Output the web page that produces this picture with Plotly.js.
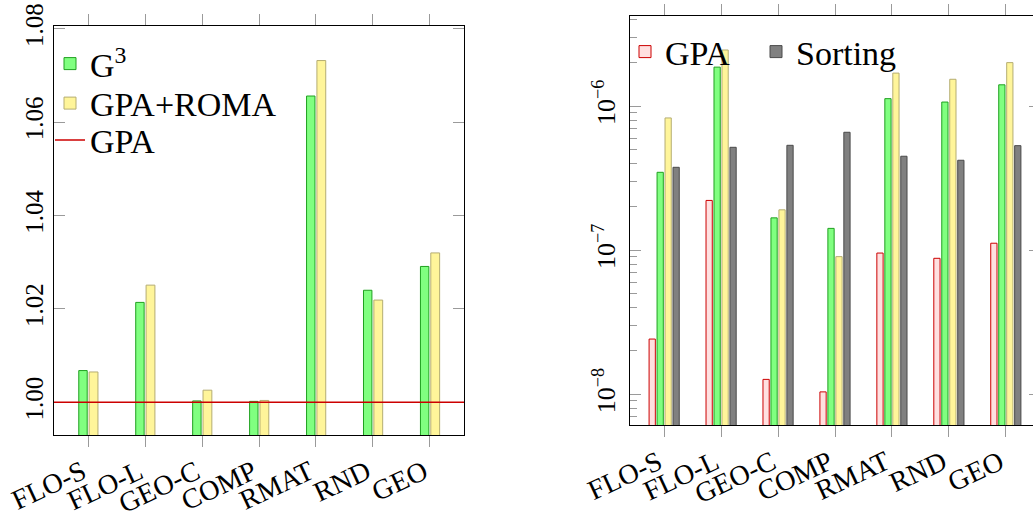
<!DOCTYPE html>
<html><head><meta charset="utf-8">
<script src="https://cdn.plot.ly/plotly-3.0.1.min.js"></script>
<style>html,body{margin:0;padding:0;overflow:hidden;background:#fff}</style>
</head><body><div id="chart" style="width:1045px;height:515px"></div>
<script>
const categories = ['FLO-S','FLO-L','GEO-C','COMP','RMAT','RND','GEO'];
// left panel: relative quality
const qualityG3 = [1.0068,1.0214,1.0003,1.0002,1.0656,1.0240,1.0291];
const qualityGpaRoma = [1.0065,1.0251,1.0026,1.0004,1.0732,1.0219,1.0320];
const qualityGpaBaseline = 1.0;
const qualityTicks = [1.00,1.02,1.04,1.06,1.08];
// right panel: running time
const timeGpa = [2.42e-8,2.22e-7,1.27e-8,1.04e-8,9.57e-8,8.8e-8,1.12e-7];
const timeG3 = [3.48e-7,1.87e-6,1.68e-7,1.42e-7,1.13e-6,1.07e-6,1.41e-6];
const timeGpaRoma = [8.3e-7,2.46e-6,1.91e-7,9.04e-8,1.70e-6,1.54e-6,2.01e-6];
const timeSorting = [3.77e-7,5.19e-7,5.36e-7,6.6e-7,4.5e-7,4.22e-7,5.33e-7];
const timeTicks = [1e-8,1e-7,1e-6];
const timeTickText = ['10<sup>\u22128</sup>','10<sup>\u22127</sup>','10<sup>\u22126</sup>'];

const W = 1045, H = 515;
const FONT = 'Liberation Serif';
const green = {fill:'#80ff80', line:'#1fa01f'};
const yellow = {fill:'#fff59a', line:'#b5ad72'};
const red = {fill:'#ffe0e0', line:'#cc0000'};
const gray = {fill:'#808080', line:'#4a4a4a'};

const minorVals = [];
for (let e = -9; e <= -5; e++) for (let m = 2; m <= 9; m++) minorVals.push(m * Math.pow(10, e));

function bar(x, y, col, name, xa, ya, offset, width, legend, show) {
  return {type:'bar', x:x, y:y, name:name, xaxis:xa, yaxis:ya, offset:offset, width:width,
    marker:{color:col.fill, line:{color:col.line, width:1}}, legend:legend, showlegend:show,
    hoverinfo:'y'};
}

const data = [
  bar(categories, qualityG3, green, 'G<sup>3</sup>', 'x', 'y', -0.165, 0.148, 'legend', true),
  bar(categories, qualityGpaRoma, yellow, 'GPA+ROMA', 'x', 'y', 0.017, 0.155, 'legend3', true),
  bar(categories, timeGpa, red, 'GPA', 'x2', 'y2', -0.265, 0.11, 'legend2', true),
  bar(categories, timeG3, green, 'G<sup>3</sup>', 'x2', 'y2', -0.125, 0.11, 'legend2', false),
  bar(categories, timeGpaRoma, yellow, 'GPA+ROMA', 'x2', 'y2', 0.015, 0.11, 'legend2', false),
  bar(categories, timeSorting, gray, 'Sorting', 'x2', 'y2', 0.155, 0.11, 'legend5', true)
];

const xCommon = {
  type:'category', range:[-0.6, 6.6], showline:true, linecolor:'#000', linewidth:1,
  mirror:'ticks', ticks:'outside', ticklen:11, tickcolor:'#9a9a9a', tickwidth:1,
  tickangle:-25, ticklabelstandoff:-2, ticklabelshift:-6, tickfont:{family:FONT, size:28, color:'#000'},
  showgrid:false, zeroline:false, fixedrange:true
};

const legendFont = {family:FONT, size:34, color:'#000'};
function leg(x, yc, extra) {
  return Object.assign({x:x/W, y:(H-yc)/H, xanchor:'left', yanchor:'middle', bgcolor:'rgba(0,0,0,0)',
    borderwidth:0, font:legendFont, itemwidth:30}, extra || {});
}

const layout = {
  width:W, height:H, margin:{l:0, r:0, t:0, b:0},
  paper_bgcolor:'#fff', plot_bgcolor:'#fff', barmode:'overlay',
  font:{family:FONT, color:'#000'},
  xaxis: Object.assign({}, xCommon, {domain:[54/W, 464/W], anchor:'y'}),
  xaxis2: Object.assign({}, xCommon, {domain:[630/W, 1040/W], anchor:'y2'}),
  yaxis: {
    domain:[(H-435)/H, (H-26)/H], anchor:'x', range:[0.993, 1.0806],
    tickmode:'array', tickvals:qualityTicks, ticktext:qualityTicks.map(v => v.toFixed(2)),
    showline:true, linecolor:'#000', linewidth:1, mirror:'ticks', ticks:'inside', ticklen:11,
    tickcolor:'#9a9a9a', tickwidth:1, tickangle:-90, ticklabelstandoff:0,
    tickfont:{family:FONT, size:25, color:'#000'}, showgrid:false, zeroline:false
  },
  yaxis2: {
    domain:[(H-425.3)/H, (H-15.7)/H], anchor:'x2', type:'log', range:[-8.215, -5.371],
    tickmode:'array', tickvals:timeTicks, ticktext:timeTickText,
    showline:true, linecolor:'#000', linewidth:1, mirror:'ticks', ticks:'inside', ticklen:11,
    tickcolor:'#9a9a9a', tickwidth:1, tickangle:-90, ticklabelstandoff:4,
    tickfont:{family:FONT, size:26, color:'#000'}, showgrid:false, zeroline:false,
    minor:{tickmode:'array', tickvals:minorVals, ticks:'inside', ticklen:7, tickcolor:'#9a9a9a', tickwidth:1, showgrid:false}
  },
  shapes: [{
    type:'line', xref:'x domain', yref:'y', x0:0, x1:1, y0:qualityGpaBaseline, y1:qualityGpaBaseline,
    line:{color:'#cc0000', width:1.5}, showlegend:true, name:'GPA', legend:'legend4', layer:'above'
  }],
  legend: leg(50, 64),
  legend3: leg(50, 103.5),
  legend4: leg(50, 140.5),
  legend2: leg(625, 52),
  legend5: leg(756, 52),
  showlegend:true
};

Plotly.newPlot('chart', data, layout, {staticPlot:true, displayModeBar:false});
</script></body></html>
